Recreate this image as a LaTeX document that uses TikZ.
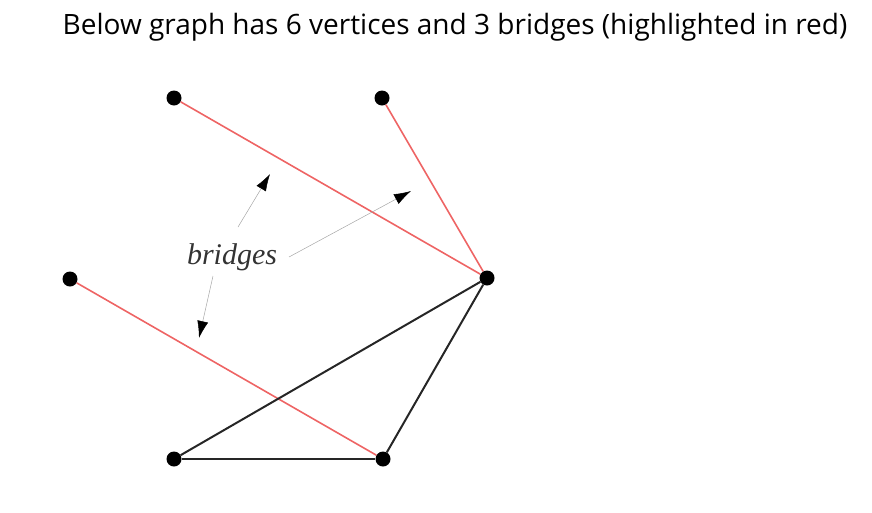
\documentclass[tikz,border=0pt]{standalone}
\usepackage{fontspec}
\setmainfont{Liberation Serif}
\newfontfamily\titlefont{Open Sans}
\usetikzlibrary{arrows.meta}
\tikzstyle{vertex} = [circle, fill=black, inner sep=0pt, minimum size=15pt]
\tikzstyle{bridge} = [line width=1.6pt, draw={rgb,255:red,238;green,100;blue,100}]
\tikzstyle{edge} = [line width=2pt, draw=black!85]
\tikzstyle{pointer} = [line width=0.5pt, draw=black!35, -{Latex[length=17pt, width=11pt, black]}]
\tikzstyle{heading} = [font=\titlefont\fontsize{28}{32}\selectfont]
\tikzstyle{label} = [font=\itshape\fontsize{30}{34}\selectfont, text=black!80]

\begin{document}
\begin{tikzpicture}[x=1pt, y=-1pt]
    \useasboundingbox (0,0) rectangle (872,512);
    \node (title) [heading] at (455,27) {Below graph has 6 vertices and 3 bridges (highlighted in red)};

    \node (v1) [vertex] at (174,98) {};
    \node (v2) [vertex] at (382,98) {};
    \node (v3) [vertex] at (70,279) {};
    \node (v4) [vertex] at (487,278) {};
    \node (v5) [vertex] at (174,459) {};
    \node (v6) [vertex] at (383,459) {};

    \node (bridges) [label] at (232,257) {bridges};
    \coordinate (tip1) at (270,174);
    \coordinate (tip2) at (411,191);
    \coordinate (tip3) at (199,338);

    \draw [bridge] (v1) -- (v4);
    \draw [bridge] (v2) -- (v4);
    \draw [bridge] (v3) -- (v6);

    \draw [edge] (v4) -- (v5);
    \draw [edge] (v4) -- (v6);
    \draw [edge] (v5) -- (v6);

    \draw [pointer] (238,227) -- (tip1);
    \draw [pointer] (289,257) -- (tip2);
    \draw [pointer] (213,276) -- (tip3);
\end{tikzpicture}
\end{document}
